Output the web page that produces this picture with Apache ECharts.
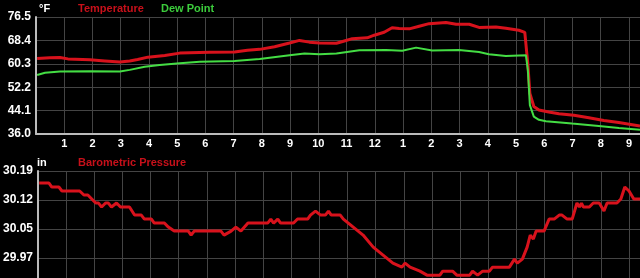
<!DOCTYPE html>
<html><head><meta charset="utf-8">
<script src="https://cdn.jsdelivr.net/npm/echarts@6/dist/echarts.min.js"></script>
<style>html,body{margin:0;padding:0;background:#000;overflow:hidden;width:640px;height:278px;}#c{width:640px;height:330px;}</style>
</head><body><div id="c"></div>
<script>
// Hours since midnight
const tempHours = [0.04,0.49,0.85,1.13,1.91,2.44,2.97,3.32,3.60,3.96,4.56,5.09,6.15,7.03,7.49,7.92,8.45,8.98,9.33,9.68,10.04,10.64,10.92,11.20,11.73,11.98,12.33,12.61,12.86,13.22,13.57,13.92,14.52,14.88,15.34,15.69,16.29,16.64,17.10,17.31,17.42,17.49,17.63,17.81,18.16,18.52,19.05,19.58,20.11,20.64,21.39];
const temperature = [62.1,62.4,62.5,62.0,61.7,61.3,60.9,61.3,61.8,62.6,63.2,64.0,64.3,64.4,65.0,65.3,66.2,67.5,68.4,67.8,67.5,67.4,68.2,69.0,69.3,70.2,71.2,72.8,72.5,72.4,73.3,74.2,74.6,74.0,74.0,72.9,73.0,72.6,71.9,71.2,60.0,50.0,45.5,44.3,43.6,43.0,42.5,41.6,40.7,40.0,38.8];
const dewHours = [0.04,0.32,0.85,1.91,2.97,3.32,3.85,4.38,5.09,5.80,7.03,7.92,8.98,9.51,10.04,10.64,11.45,12.40,12.97,13.46,14.03,14.98,15.69,16.04,16.64,17.35,17.42,17.49,17.63,17.81,18.06,18.98,19.93,20.64,21.39];
const dewPoint = [56.4,57.2,57.6,57.7,57.6,58.2,59.3,59.9,60.5,61.0,61.3,62.0,63.3,63.9,63.6,63.9,65.0,65.1,64.8,65.9,64.9,65.1,64.4,63.6,63.0,63.3,58.0,46.0,42.0,40.9,40.4,39.6,38.8,38.1,37.5];
const pressureHours = [0.04,0.39,0.49,0.74,0.85,1.48,1.63,1.77,1.91,2.05,2.15,2.26,2.40,2.50,2.61,2.79,2.93,3.25,3.43,3.67,3.78,4.03,4.13,4.49,4.63,4.84,5.34,5.44,5.55,6.50,6.61,6.86,7.03,7.21,7.46,8.16,8.27,8.37,8.52,8.62,9.08,9.22,9.43,9.58,9.68,9.86,10.04,10.21,10.32,10.42,10.74,10.85,11.20,11.55,11.91,12.26,12.61,12.93,13.04,13.22,13.57,13.82,14.28,14.38,14.73,14.88,15.34,15.44,15.62,15.80,16.04,16.15,16.75,16.93,17.03,17.21,17.38,17.49,17.60,17.70,17.81,17.98,18.16,18.34,18.52,18.62,18.80,18.98,19.15,19.24,19.31,19.38,19.59,19.73,19.94,20.11,20.22,20.57,20.71,20.85,21.00,21.17,21.39];
const pressure = [30.16,30.16,30.15,30.15,30.14,30.14,30.13,30.13,30.12,30.11,30.11,30.10,30.11,30.11,30.10,30.11,30.10,30.10,30.08,30.08,30.07,30.07,30.06,30.06,30.05,30.04,30.04,30.03,30.04,30.04,30.03,30.04,30.05,30.04,30.06,30.06,30.07,30.06,30.07,30.06,30.06,30.07,30.07,30.07,30.08,30.09,30.08,30.08,30.09,30.08,30.08,30.07,30.05,30.03,30.00,29.98,29.96,29.95,29.96,29.95,29.94,29.93,29.93,29.94,29.94,29.93,29.93,29.94,29.93,29.94,29.94,29.95,29.95,29.97,29.96,29.97,30.00,30.03,30.02,30.04,30.04,30.04,30.07,30.07,30.08,30.08,30.07,30.07,30.11,30.10,30.11,30.10,30.10,30.11,30.11,30.09,30.11,30.11,30.12,30.15,30.14,30.12,30.12];
const tempTicks = [36.0, 76.5, 8.1];      // min, max, step
const pressTicks = [29.828, 30.19, 0.0724]; // min, max, step
const hourMax = 21.39;

const RED = '#d8121c', GREEN = '#44dd44';
const pair = (xs, ys) => xs.map((x, i) => [x, ys[i]]);
const hourLabel = v => (v <= 0 ? '' : String(((Math.round(v) - 1) % 12) + 1));
const gridLine = { show: true, lineStyle: { color: '#444', width: 1 } };
const labelFont = { fontFamily: 'Liberation Sans', fontWeight: 'bold', color: '#fff' };

const chart = echarts.init(document.getElementById('c'), null, { renderer: 'canvas' });
chart.setOption({
  backgroundColor: '#000',
  animation: false,
  grid: [
    { left: 36, top: 17, right: 0, height: 117 },
    { left: 36, top: 171, right: 0, height: 145 }
  ],
  xAxis: [
    { type: 'value', gridIndex: 0, min: 0, max: hourMax, interval: 1,
      axisLine: { show: true, lineStyle: { color: '#bbb', width: 2 } },
      axisTick: { show: false }, splitLine: gridLine,
      axisLabel: Object.assign({ fontSize: 11, margin: 4, formatter: hourLabel, showMaxLabel: false }, labelFont) },
    { type: 'value', gridIndex: 1, min: 0, max: hourMax, interval: 1,
      axisLine: { show: false }, axisTick: { show: false }, splitLine: gridLine,
      axisLabel: { show: false } }
  ],
  yAxis: [
    { type: 'value', gridIndex: 0, min: tempTicks[0], max: tempTicks[1], interval: tempTicks[2],
      axisLine: { show: true, lineStyle: { color: '#bbb', width: 2 } },
      axisTick: { show: false }, splitLine: gridLine,
      axisLabel: Object.assign({ fontSize: 12, margin: 5, padding: [5, 0, 0, 0], formatter: v => v.toFixed(1) }, labelFont) },
    { type: 'value', gridIndex: 1, min: pressTicks[0], max: pressTicks[1], interval: pressTicks[2],
      axisLine: { show: true, lineStyle: { color: '#bbb', width: 2 } },
      axisTick: { show: false }, splitLine: gridLine,
      axisLabel: Object.assign({ fontSize: 12, margin: 5, padding: [4, 0, 0, 0], formatter: v => (Math.round(v * 100) / 100).toFixed(2) }, labelFont) }
  ],
  series: [
    { name: 'Dew Point', type: 'line', xAxisIndex: 0, yAxisIndex: 0, data: pair(dewHours, dewPoint),
      showSymbol: false, lineStyle: { color: GREEN, width: 2 }, z: 3 },
    { name: 'Temperature', type: 'line', xAxisIndex: 0, yAxisIndex: 0, data: pair(tempHours, temperature),
      showSymbol: false, lineStyle: { color: RED, width: 3 }, z: 2 },
    { name: 'Barometric Pressure', type: 'line', xAxisIndex: 1, yAxisIndex: 1, data: pair(pressureHours, pressure),
      showSymbol: false, lineStyle: { color: RED, width: 3 } }
  ],
  graphic: [
    { type: 'text', left: 39, top: 3, style: { text: '°F', fill: '#fff', font: 'bold 11px "Liberation Sans"' } },
    { type: 'text', left: 78, top: 3, style: { text: 'Temperature', fill: '#c8101a', font: 'bold 11px "Liberation Sans"' } },
    { type: 'text', left: 161, top: 3, style: { text: 'Dew Point', fill: '#3ccc3c', font: 'bold 11px "Liberation Sans"' } },
    { type: 'text', left: 37, top: 157, style: { text: 'in', fill: '#fff', font: 'bold 11px "Liberation Sans"' } },
    { type: 'text', left: 78, top: 157, style: { text: 'Barometric Pressure', fill: '#c8101a', font: 'bold 11px "Liberation Sans"' } }
  ]
});
</script></body></html>
